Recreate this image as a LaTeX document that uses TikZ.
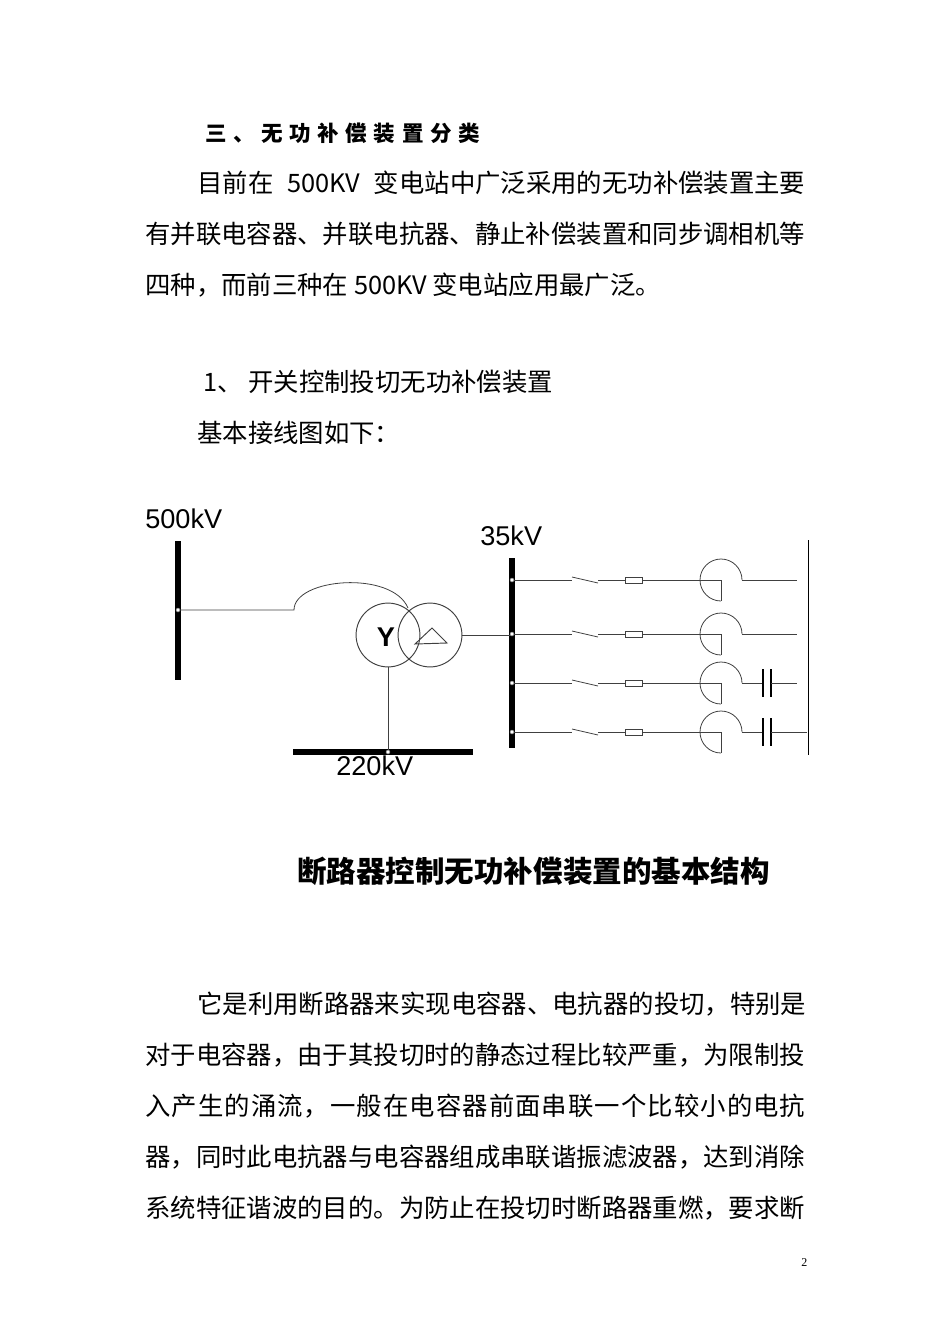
\documentclass[tikz,border=0pt]{standalone}
\usepackage{fontspec}
\setmainfont{Liberation Serif}
\newfontfamily\cjk{Noto Sans CJK SC}
\newfontfamily\lab{Liberation Sans}
\XeTeXlinebreaklocale "zh"
\XeTeXlinebreakskip=0pt plus 1fil
\newcommand\jl[2]{\makebox[#1][s]{#2}}
\def\spx#1#2{#1\ifx#2\relax\else\hfil\expandafter\spx\expandafter#2\fi}
\newcommand\spline[2]{\makebox[#1][s]{\spx#2\relax}}
\begin{document}
\begin{tikzpicture}[x=0.6266pt,y=-0.6266pt,
  txt/.style={anchor=base west,inner sep=0pt,font=\cjk\fontsize{15.9pt}{18pt}\selectfont},
  lbl/.style={anchor=base west,inner sep=0pt,font=\lab\fontsize{17pt}{19pt}\selectfont},
  bus/.style={line width=3.2pt},
  wire/.style={line width=0.5pt,draw=black!75},
  dot/.style={circle,draw=black!60,fill=white,inner sep=0pt,minimum size=2.5pt,line width=0.3pt}]
\useasboundingbox (0,0) rectangle (950,1344);
% text above
\node[txt,font=\cjk\bfseries\fontsize{13.5pt}{16pt}\selectfont] (h) at (205,141) {\spline{172pt}{三、无功补偿装置分类}};
\node[txt] (l1) at (197,192) {\jl{381pt}{目前在\ 500KV\ 变电站中广泛采用的无功补偿装置主要}};
\node[txt] (l2) at (145,243) {\jl{413.6pt}{有并联电容器、并联电抗器、静止补偿装置和同步调相机等}};
\node[txt] (l3) at (145,294) {四种，而前三种在 500KV 变电站应用最广泛。};
\node[txt] (l4) at (203,391) {1、 开关控制投切无功补偿装置};
\node[txt] (l5) at (197,442) {基本接线图如下：};
% diagram
\node[lbl] (t500) at (145,528) {500kV};
\node[lbl] (t35) at (480,545) {35kV};
\node[lbl] (t220) at (336,775) {220kV};
\coordinate (b5a) at (178,541); \coordinate (b5b) at (178,680);
\draw[bus] (b5a) -- (b5b);
\coordinate (p5) at (178,610);
\coordinate (c1) at (294,610);
\coordinate (ti) at (408,608);
\draw[wire] (p5) -- (c1) .. controls (294,578) and (392,570) .. (ti);
\node[dot] at (p5) {};
\node[circle,draw=black!75,line width=0.6pt,inner sep=0pt,minimum size=40pt] (tY) at (388,635) {};
\node[circle,draw=black!75,line width=0.6pt,inner sep=0pt,minimum size=40pt] (tD) at (430,635) {};
\node[font=\lab\bfseries\fontsize{17pt}{19pt}\selectfont,inner sep=0pt] (Y) at (386,637) {Y};
\draw[line width=0.6pt,draw=black!75] (415,644) -- (447,643) -- (432,628) -- cycle;
\coordinate (b35a) at (512,558); \coordinate (b35b) at (512,748);
\draw[bus] (b35a) -- (b35b);
\draw[wire] (tD.east) -- (512,635);
\draw[bus] (293,752) -- (473,752);
\draw[wire] (tY.south) -- (388,752);
\node[dot] at (388,752) {};
\draw[line width=0.5pt] (808,540) -- (808,755);
\foreach \y/\c/\e in {580/0/797,634/0/797,683/1/797,732/1/807}{
  \draw[wire] (512,\y) -- (572,\y);
  \draw[wire] (572,\y-3) -- (598,\y+3);
  \draw[wire] (598,\y) -- (625,\y);
  \draw[wire,fill=white] (625,\y-3) rectangle (642,\y+3);
  \draw[wire] (642,\y) -- (721,\y) -- (721,\y+21);
  \draw[wire] (721,\y+21) arc[start angle=90,end angle=360,radius=21];
  \ifnum\c=0
    \draw[wire] (742,\y) -- (\e,\y);
  \else
    \draw[wire] (742,\y) -- (763,\y);
    \draw[line width=0.7pt] (763,\y-14) -- (763,\y+14);
    \draw[line width=0.7pt] (771,\y-14) -- (771,\y+14);
    \draw[wire] (771,\y) -- (\e,\y);
  \fi
  \node[dot] at (512,\y) {};
}
% caption
\node[txt,font=\cjk\bfseries\fontsize{18.5pt}{21pt}\selectfont] (cap) at (297,882) {\jl{304pt}{断路器控制无功补偿装置的基本结构}};
% paragraph
\node[txt] (m1) at (197,1013) {\jl{381pt}{它是利用断路器来实现电容器、电抗器的投切，特别是}};
\node[txt] (m2) at (145,1064) {\jl{413.6pt}{对于电容器，由于其投切时的静态过程比较严重，为限制投}};
\node[txt] (m3) at (145,1115) {\spline{413.6pt}{入产生的涌流，一般在电容器前面串联一个比较小的电抗}};
\node[txt] (m4) at (145,1166) {\jl{413.6pt}{器，同时此电抗器与电容器组成串联谐振滤波器，达到消除}};
\node[txt] (m5) at (145,1217) {\jl{413.6pt}{系统特征谐波的目的。为防止在投切时断路器重燃，要求断}};
\node[anchor=base west,inner sep=0pt,font=\fontsize{7.5pt}{9pt}\selectfont] (pg) at (801,1266) {2};
\end{tikzpicture}
\end{document}
